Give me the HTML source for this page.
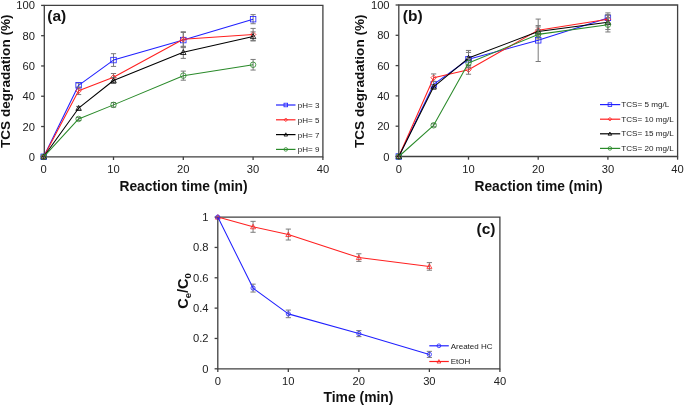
<!DOCTYPE html>
<html><head><meta charset="utf-8"><style>
html,body{margin:0;padding:0;background:#fff;width:685px;height:407px;overflow:hidden}
svg{display:block;will-change:transform}
text{font-family:"Liberation Sans", sans-serif;fill:#222}
text[font-weight=bold]{fill:#111}
</style></head><body>
<svg width="685" height="407" viewBox="0 0 685 407">
<rect width="685" height="407" fill="#fff"/>
<path d="M43.70 156.80V160.00" stroke="#404040" stroke-width="1.3"/>
<text x="43.70" y="173.30" text-anchor="middle" font-size="11.2">0</text>
<path d="M113.50 156.80V160.00" stroke="#404040" stroke-width="1.3"/>
<text x="113.50" y="173.30" text-anchor="middle" font-size="11.2">10</text>
<path d="M183.30 156.80V160.00" stroke="#404040" stroke-width="1.3"/>
<text x="183.30" y="173.30" text-anchor="middle" font-size="11.2">20</text>
<path d="M253.10 156.80V160.00" stroke="#404040" stroke-width="1.3"/>
<text x="253.10" y="173.30" text-anchor="middle" font-size="11.2">30</text>
<path d="M322.90 156.80V160.00" stroke="#404040" stroke-width="1.3"/>
<text x="322.90" y="173.30" text-anchor="middle" font-size="11.2">40</text>
<path d="M41.10 156.80H44.30" stroke="#404040" stroke-width="1.3"/>
<text x="35.00" y="160.80" text-anchor="end" font-size="11.2">0</text>
<path d="M41.10 126.52H44.30" stroke="#404040" stroke-width="1.3"/>
<text x="35.00" y="130.52" text-anchor="end" font-size="11.2">20</text>
<path d="M41.10 96.24H44.30" stroke="#404040" stroke-width="1.3"/>
<text x="35.00" y="100.24" text-anchor="end" font-size="11.2">40</text>
<path d="M41.10 65.96H44.30" stroke="#404040" stroke-width="1.3"/>
<text x="35.00" y="69.96" text-anchor="end" font-size="11.2">60</text>
<path d="M41.10 35.68H44.30" stroke="#404040" stroke-width="1.3"/>
<text x="35.00" y="39.68" text-anchor="end" font-size="11.2">80</text>
<path d="M41.10 5.40H44.30" stroke="#404040" stroke-width="1.3"/>
<text x="35.00" y="9.40" text-anchor="end" font-size="11.2">100</text>
<path d="M44.30 5.40H322.90V156.80H44.30Z" fill="none" stroke="#404040" stroke-width="1.3"/>
<path d="M78.60 83.07V87.61M76.00 83.07H81.20M76.00 87.61H81.20" stroke="#7a7a7a" stroke-width="1" fill="none"/>
<path d="M113.50 53.70V66.41M110.90 53.70H116.10M110.90 66.41H116.10" stroke="#7a7a7a" stroke-width="1" fill="none"/>
<path d="M183.30 32.50V47.64M180.70 32.50H185.90M180.70 47.64H185.90" stroke="#7a7a7a" stroke-width="1" fill="none"/>
<path d="M253.10 14.64V23.72M250.50 14.64H255.70M250.50 23.72H255.70" stroke="#7a7a7a" stroke-width="1" fill="none"/>
<path d="M43.70 156.80L78.60 85.34L113.50 60.06L183.30 40.07L253.10 19.18" fill="none" stroke="#2020ff" stroke-width="1.05" stroke-linejoin="round"/>
<rect x="40.95" y="154.05" width="5.50" height="5.50" fill="none" stroke="#2020ff" stroke-width="0.8"/>
<rect x="75.85" y="82.59" width="5.50" height="5.50" fill="none" stroke="#2020ff" stroke-width="0.8"/>
<rect x="110.75" y="57.31" width="5.50" height="5.50" fill="none" stroke="#2020ff" stroke-width="0.8"/>
<rect x="180.55" y="37.32" width="5.50" height="5.50" fill="none" stroke="#2020ff" stroke-width="0.8"/>
<rect x="250.35" y="16.43" width="5.50" height="5.50" fill="none" stroke="#2020ff" stroke-width="0.8"/>
<path d="M78.60 87.00V94.57M76.00 87.00H81.20M76.00 94.57H81.20" stroke="#7a7a7a" stroke-width="1" fill="none"/>
<path d="M113.50 73.53V81.10M110.90 73.53H116.10M110.90 81.10H116.10" stroke="#7a7a7a" stroke-width="1" fill="none"/>
<path d="M183.30 31.74V46.88M180.70 31.74H185.90M180.70 46.88H185.90" stroke="#7a7a7a" stroke-width="1" fill="none"/>
<path d="M253.10 28.41V40.52M250.50 28.41H255.70M250.50 40.52H255.70" stroke="#7a7a7a" stroke-width="1" fill="none"/>
<path d="M43.70 156.80L78.60 90.79L113.50 77.32L183.30 39.31L253.10 34.47" fill="none" stroke="#ff2020" stroke-width="1.05" stroke-linejoin="round"/>
<path d="M43.70 154.05L46.45 156.80L43.70 159.55L40.95 156.80Z" fill="none" stroke="#ff2020" stroke-width="0.8"/>
<path d="M78.60 88.04L81.35 90.79L78.60 93.54L75.85 90.79Z" fill="none" stroke="#ff2020" stroke-width="0.8"/>
<path d="M113.50 74.57L116.25 77.32L113.50 80.07L110.75 77.32Z" fill="none" stroke="#ff2020" stroke-width="0.8"/>
<path d="M183.30 36.56L186.05 39.31L183.30 42.06L180.55 39.31Z" fill="none" stroke="#ff2020" stroke-width="0.8"/>
<path d="M253.10 31.72L255.85 34.47L253.10 37.22L250.35 34.47Z" fill="none" stroke="#ff2020" stroke-width="0.8"/>
<path d="M78.60 106.38V110.02M76.00 106.38H81.20M76.00 110.02H81.20" stroke="#7a7a7a" stroke-width="1" fill="none"/>
<path d="M113.50 77.47V83.52M110.90 77.47H116.10M110.90 83.52H116.10" stroke="#7a7a7a" stroke-width="1" fill="none"/>
<path d="M183.30 46.28V58.39M180.70 46.28H185.90M180.70 58.39H185.90" stroke="#7a7a7a" stroke-width="1" fill="none"/>
<path d="M253.10 31.90V40.98M250.50 31.90H255.70M250.50 40.98H255.70" stroke="#7a7a7a" stroke-width="1" fill="none"/>
<path d="M43.70 156.80L78.60 108.20L113.50 80.49L183.30 52.33L253.10 36.44" fill="none" stroke="#000000" stroke-width="1.05" stroke-linejoin="round"/>
<path d="M43.70 154.05L46.45 159.00L40.95 159.00Z" fill="none" stroke="#000000" stroke-width="0.8"/>
<path d="M78.60 105.45L81.35 110.40L75.85 110.40Z" fill="none" stroke="#000000" stroke-width="0.8"/>
<path d="M113.50 77.74L116.25 82.69L110.75 82.69Z" fill="none" stroke="#000000" stroke-width="0.8"/>
<path d="M183.30 49.58L186.05 54.53L180.55 54.53Z" fill="none" stroke="#000000" stroke-width="0.8"/>
<path d="M253.10 33.69L255.85 38.64L250.35 38.64Z" fill="none" stroke="#000000" stroke-width="0.8"/>
<path d="M78.60 117.44V120.46M76.00 117.44H81.20M76.00 120.46H81.20" stroke="#7a7a7a" stroke-width="1" fill="none"/>
<path d="M113.50 102.60V107.14M110.90 102.60H116.10M110.90 107.14H116.10" stroke="#7a7a7a" stroke-width="1" fill="none"/>
<path d="M183.30 71.11V80.19M180.70 71.11H185.90M180.70 80.19H185.90" stroke="#7a7a7a" stroke-width="1" fill="none"/>
<path d="M253.10 59.45V70.05M250.50 59.45H255.70M250.50 70.05H255.70" stroke="#7a7a7a" stroke-width="1" fill="none"/>
<path d="M43.70 156.80L78.60 118.95L113.50 104.87L183.30 75.65L253.10 64.75" fill="none" stroke="#2a8a2a" stroke-width="1.05" stroke-linejoin="round"/>
<circle cx="43.70" cy="156.80" r="2.75" fill="none" stroke="#2a8a2a" stroke-width="0.8"/>
<circle cx="78.60" cy="118.95" r="2.75" fill="none" stroke="#2a8a2a" stroke-width="0.8"/>
<circle cx="113.50" cy="104.87" r="2.75" fill="none" stroke="#2a8a2a" stroke-width="0.8"/>
<circle cx="183.30" cy="75.65" r="2.75" fill="none" stroke="#2a8a2a" stroke-width="0.8"/>
<circle cx="253.10" cy="64.75" r="2.75" fill="none" stroke="#2a8a2a" stroke-width="0.8"/>
<text x="47.3" y="20.8" font-size="15.5" font-weight="bold">(a)</text>
<text x="183.5" y="190.6" text-anchor="middle" font-size="13.8" font-weight="bold">Reaction time (min)</text>
<text transform="translate(10 81.2) rotate(-90)" text-anchor="middle" font-size="13.6" font-weight="bold">TCS degradation (%)</text>
<path d="M276 105.00H295.5" stroke="#2020ff" stroke-width="1.2"/>
<rect x="284.00" y="103.20" width="3.60" height="3.60" fill="none" stroke="#2020ff" stroke-width="0.8"/>
<text x="297.8" y="107.90" font-size="8">pH= 3</text>
<path d="M276 119.80H295.5" stroke="#ff2020" stroke-width="1.2"/>
<path d="M285.80 118.00L287.60 119.80L285.80 121.60L284.00 119.80Z" fill="none" stroke="#ff2020" stroke-width="0.8"/>
<text x="297.8" y="122.70" font-size="8">pH= 5</text>
<path d="M276 134.60H295.5" stroke="#000000" stroke-width="1.2"/>
<path d="M285.80 132.80L287.60 136.04L284.00 136.04Z" fill="none" stroke="#000000" stroke-width="0.8"/>
<text x="297.8" y="137.50" font-size="8">pH= 7</text>
<path d="M276 149.40H295.5" stroke="#2a8a2a" stroke-width="1.2"/>
<circle cx="285.80" cy="149.40" r="1.80" fill="none" stroke="#2a8a2a" stroke-width="0.8"/>
<text x="297.8" y="152.30" font-size="8">pH= 9</text>
<path d="M398.80 156.50V159.70" stroke="#404040" stroke-width="1.3"/>
<text x="398.80" y="173.10" text-anchor="middle" font-size="11.2">0</text>
<path d="M468.50 156.50V159.70" stroke="#404040" stroke-width="1.3"/>
<text x="468.50" y="173.10" text-anchor="middle" font-size="11.2">10</text>
<path d="M538.20 156.50V159.70" stroke="#404040" stroke-width="1.3"/>
<text x="538.20" y="173.10" text-anchor="middle" font-size="11.2">20</text>
<path d="M607.90 156.50V159.70" stroke="#404040" stroke-width="1.3"/>
<text x="607.90" y="173.10" text-anchor="middle" font-size="11.2">30</text>
<path d="M677.60 156.50V159.70" stroke="#404040" stroke-width="1.3"/>
<text x="677.60" y="173.10" text-anchor="middle" font-size="11.2">40</text>
<path d="M395.60 156.50H398.80" stroke="#404040" stroke-width="1.3"/>
<text x="389.60" y="160.50" text-anchor="end" font-size="11.2">0</text>
<path d="M395.60 126.20H398.80" stroke="#404040" stroke-width="1.3"/>
<text x="389.60" y="130.20" text-anchor="end" font-size="11.2">20</text>
<path d="M395.60 95.90H398.80" stroke="#404040" stroke-width="1.3"/>
<text x="389.60" y="99.90" text-anchor="end" font-size="11.2">40</text>
<path d="M395.60 65.60H398.80" stroke="#404040" stroke-width="1.3"/>
<text x="389.60" y="69.60" text-anchor="end" font-size="11.2">60</text>
<path d="M395.60 35.30H398.80" stroke="#404040" stroke-width="1.3"/>
<text x="389.60" y="39.30" text-anchor="end" font-size="11.2">80</text>
<path d="M395.60 5.00H398.80" stroke="#404040" stroke-width="1.3"/>
<text x="389.60" y="9.00" text-anchor="end" font-size="11.2">100</text>
<path d="M398.80 5.00H677.60V156.50H398.80Z" fill="none" stroke="#404040" stroke-width="1.3"/>
<path d="M433.65 81.36V87.42M431.05 81.36H436.25M431.05 87.42H436.25" stroke="#7a7a7a" stroke-width="1" fill="none"/>
<path d="M468.50 52.42V66.05M465.90 52.42H471.10M465.90 66.05H471.10" stroke="#7a7a7a" stroke-width="1" fill="none"/>
<path d="M538.20 19.09V61.51M535.60 19.09H540.80M535.60 61.51H540.80" stroke="#7a7a7a" stroke-width="1" fill="none"/>
<path d="M607.90 12.88V22.88M605.30 12.88H610.50M605.30 22.88H610.50" stroke="#7a7a7a" stroke-width="1" fill="none"/>
<path d="M398.80 156.50L433.65 84.39L468.50 59.24L538.20 40.30L607.90 17.88" fill="none" stroke="#2020ff" stroke-width="1.05" stroke-linejoin="round"/>
<rect x="396.05" y="153.75" width="5.50" height="5.50" fill="none" stroke="#2020ff" stroke-width="0.8"/>
<rect x="430.90" y="81.64" width="5.50" height="5.50" fill="none" stroke="#2020ff" stroke-width="0.8"/>
<rect x="465.75" y="56.49" width="5.50" height="5.50" fill="none" stroke="#2020ff" stroke-width="0.8"/>
<rect x="535.45" y="37.55" width="5.50" height="5.50" fill="none" stroke="#2020ff" stroke-width="0.8"/>
<rect x="605.15" y="15.13" width="5.50" height="5.50" fill="none" stroke="#2020ff" stroke-width="0.8"/>
<path d="M433.65 73.93V81.51M431.05 73.93H436.25M431.05 81.51H436.25" stroke="#7a7a7a" stroke-width="1" fill="none"/>
<path d="M468.50 65.15V74.24M465.90 65.15H471.10M465.90 74.24H471.10" stroke="#7a7a7a" stroke-width="1" fill="none"/>
<path d="M538.20 25.60V34.69M535.60 25.60H540.80M535.60 34.69H540.80" stroke="#7a7a7a" stroke-width="1" fill="none"/>
<path d="M607.90 14.70V23.79M605.30 14.70H610.50M605.30 23.79H610.50" stroke="#7a7a7a" stroke-width="1" fill="none"/>
<path d="M398.80 156.50L433.65 77.72L468.50 69.69L538.20 30.15L607.90 19.24" fill="none" stroke="#ff2020" stroke-width="1.05" stroke-linejoin="round"/>
<path d="M398.80 153.75L401.55 156.50L398.80 159.25L396.05 156.50Z" fill="none" stroke="#ff2020" stroke-width="0.8"/>
<path d="M433.65 74.97L436.40 77.72L433.65 80.47L430.90 77.72Z" fill="none" stroke="#ff2020" stroke-width="0.8"/>
<path d="M468.50 66.94L471.25 69.69L468.50 72.44L465.75 69.69Z" fill="none" stroke="#ff2020" stroke-width="0.8"/>
<path d="M538.20 27.40L540.95 30.15L538.20 32.90L535.45 30.15Z" fill="none" stroke="#ff2020" stroke-width="0.8"/>
<path d="M607.90 16.49L610.65 19.24L607.90 21.99L605.15 19.24Z" fill="none" stroke="#ff2020" stroke-width="0.8"/>
<path d="M433.65 84.54V89.08M431.05 84.54H436.25M431.05 89.08H436.25" stroke="#7a7a7a" stroke-width="1" fill="none"/>
<path d="M468.50 50.45V65.60M465.90 50.45H471.10M465.90 65.60H471.10" stroke="#7a7a7a" stroke-width="1" fill="none"/>
<path d="M538.20 26.97V36.06M535.60 26.97H540.80M535.60 36.06H540.80" stroke="#7a7a7a" stroke-width="1" fill="none"/>
<path d="M607.90 15.00V29.54M605.30 15.00H610.50M605.30 29.54H610.50" stroke="#7a7a7a" stroke-width="1" fill="none"/>
<path d="M398.80 156.50L433.65 86.81L468.50 58.03L538.20 31.51L607.90 22.27" fill="none" stroke="#000000" stroke-width="1.05" stroke-linejoin="round"/>
<path d="M398.80 153.75L401.55 158.70L396.05 158.70Z" fill="none" stroke="#000000" stroke-width="0.8"/>
<path d="M433.65 84.06L436.40 89.01L430.90 89.01Z" fill="none" stroke="#000000" stroke-width="0.8"/>
<path d="M468.50 55.28L471.25 60.23L465.75 60.23Z" fill="none" stroke="#000000" stroke-width="0.8"/>
<path d="M538.20 28.76L540.95 33.71L535.45 33.71Z" fill="none" stroke="#000000" stroke-width="0.8"/>
<path d="M607.90 19.52L610.65 24.47L605.15 24.47Z" fill="none" stroke="#000000" stroke-width="0.8"/>
<path d="M433.65 123.78V126.81M431.05 123.78H436.25M431.05 126.81H436.25" stroke="#7a7a7a" stroke-width="1" fill="none"/>
<path d="M468.50 58.48V67.57M465.90 58.48H471.10M465.90 67.57H471.10" stroke="#7a7a7a" stroke-width="1" fill="none"/>
<path d="M538.20 29.85V38.94M535.60 29.85H540.80M535.60 38.94H540.80" stroke="#7a7a7a" stroke-width="1" fill="none"/>
<path d="M607.90 17.42V31.97M605.30 17.42H610.50M605.30 31.97H610.50" stroke="#7a7a7a" stroke-width="1" fill="none"/>
<path d="M398.80 156.50L433.65 125.29L468.50 63.02L538.20 34.39L607.90 24.70" fill="none" stroke="#2a8a2a" stroke-width="1.05" stroke-linejoin="round"/>
<circle cx="398.80" cy="156.50" r="2.75" fill="none" stroke="#2a8a2a" stroke-width="0.8"/>
<circle cx="433.65" cy="125.29" r="2.75" fill="none" stroke="#2a8a2a" stroke-width="0.8"/>
<circle cx="468.50" cy="63.02" r="2.75" fill="none" stroke="#2a8a2a" stroke-width="0.8"/>
<circle cx="538.20" cy="34.39" r="2.75" fill="none" stroke="#2a8a2a" stroke-width="0.8"/>
<circle cx="607.90" cy="24.70" r="2.75" fill="none" stroke="#2a8a2a" stroke-width="0.8"/>
<text x="402.8" y="20.8" font-size="15.5" font-weight="bold">(b)</text>
<text x="538.5" y="190.6" text-anchor="middle" font-size="13.8" font-weight="bold">Reaction time (min)</text>
<text transform="translate(364.3 81.2) rotate(-90)" text-anchor="middle" font-size="13.6" font-weight="bold">TCS degradation (%)</text>
<path d="M600 104.60H620.2" stroke="#2020ff" stroke-width="1.2"/>
<rect x="608.10" y="102.80" width="3.60" height="3.60" fill="none" stroke="#2020ff" stroke-width="0.8"/>
<text x="621.3" y="107.00" font-size="8.1">TCS= 5 mg/L</text>
<path d="M600 119.20H620.2" stroke="#ff2020" stroke-width="1.2"/>
<path d="M609.90 117.40L611.70 119.20L609.90 121.00L608.10 119.20Z" fill="none" stroke="#ff2020" stroke-width="0.8"/>
<text x="621.3" y="121.60" font-size="8.1">TCS= 10 mg/L</text>
<path d="M600 133.80H620.2" stroke="#000000" stroke-width="1.2"/>
<path d="M609.90 132.00L611.70 135.24L608.10 135.24Z" fill="none" stroke="#000000" stroke-width="0.8"/>
<text x="621.3" y="136.20" font-size="8.1">TCS= 15 mg/L</text>
<path d="M600 148.40H620.2" stroke="#2a8a2a" stroke-width="1.2"/>
<circle cx="609.90" cy="148.40" r="1.80" fill="none" stroke="#2a8a2a" stroke-width="0.8"/>
<text x="621.3" y="150.80" font-size="8.1">TCS= 20 mg/L</text>
<path d="M217.80 368.80V372.00" stroke="#404040" stroke-width="1.3"/>
<text x="217.80" y="385.40" text-anchor="middle" font-size="11.2">0</text>
<path d="M288.32 368.80V372.00" stroke="#404040" stroke-width="1.3"/>
<text x="288.32" y="385.40" text-anchor="middle" font-size="11.2">10</text>
<path d="M358.85 368.80V372.00" stroke="#404040" stroke-width="1.3"/>
<text x="358.85" y="385.40" text-anchor="middle" font-size="11.2">20</text>
<path d="M429.38 368.80V372.00" stroke="#404040" stroke-width="1.3"/>
<text x="429.38" y="385.40" text-anchor="middle" font-size="11.2">30</text>
<path d="M499.90 368.80V372.00" stroke="#404040" stroke-width="1.3"/>
<text x="499.90" y="385.40" text-anchor="middle" font-size="11.2">40</text>
<path d="M214.60 368.80H217.80" stroke="#404040" stroke-width="1.3"/>
<text x="208.50" y="372.80" text-anchor="end" font-size="11.2">0</text>
<path d="M214.60 338.46H217.80" stroke="#404040" stroke-width="1.3"/>
<text x="208.50" y="342.46" text-anchor="end" font-size="11.2">0.2</text>
<path d="M214.60 308.12H217.80" stroke="#404040" stroke-width="1.3"/>
<text x="208.50" y="312.12" text-anchor="end" font-size="11.2">0.4</text>
<path d="M214.60 277.78H217.80" stroke="#404040" stroke-width="1.3"/>
<text x="208.50" y="281.78" text-anchor="end" font-size="11.2">0.6</text>
<path d="M214.60 247.44H217.80" stroke="#404040" stroke-width="1.3"/>
<text x="208.50" y="251.44" text-anchor="end" font-size="11.2">0.8</text>
<path d="M214.60 217.10H217.80" stroke="#404040" stroke-width="1.3"/>
<text x="208.50" y="221.10" text-anchor="end" font-size="11.2">1</text>
<path d="M217.80 217.10H499.90V368.80H217.80Z" fill="none" stroke="#404040" stroke-width="1.3"/>
<path d="M253.06 221.35V232.27M250.46 221.35H255.66M250.46 232.27H255.66" stroke="#7a7a7a" stroke-width="1" fill="none"/>
<path d="M288.32 229.08V240.01M285.72 229.08H290.93M285.72 240.01H290.93" stroke="#7a7a7a" stroke-width="1" fill="none"/>
<path d="M358.85 253.81V261.40M356.25 253.81H361.45M356.25 261.40H361.45" stroke="#7a7a7a" stroke-width="1" fill="none"/>
<path d="M429.38 262.61V270.19M426.77 262.61H431.98M426.77 270.19H431.98" stroke="#7a7a7a" stroke-width="1" fill="none"/>
<path d="M217.80 217.10L253.06 226.81L288.32 234.55L358.85 257.60L429.38 266.40" fill="none" stroke="#ff2020" stroke-width="1.05" stroke-linejoin="round"/>
<path d="M217.80 214.60L220.30 219.10L215.30 219.10Z" fill="none" stroke="#ff2020" stroke-width="0.8"/>
<path d="M253.06 224.31L255.56 228.81L250.56 228.81Z" fill="none" stroke="#ff2020" stroke-width="0.8"/>
<path d="M288.32 232.05L290.82 236.55L285.82 236.55Z" fill="none" stroke="#ff2020" stroke-width="0.8"/>
<path d="M358.85 255.10L361.35 259.60L356.35 259.60Z" fill="none" stroke="#ff2020" stroke-width="0.8"/>
<path d="M429.38 263.90L431.88 268.40L426.88 268.40Z" fill="none" stroke="#ff2020" stroke-width="0.8"/>
<path d="M253.06 284.15V292.04M250.46 284.15H255.66M250.46 292.04H255.66" stroke="#7a7a7a" stroke-width="1" fill="none"/>
<path d="M288.32 310.09V317.68M285.72 310.09H290.93M285.72 317.68H290.93" stroke="#7a7a7a" stroke-width="1" fill="none"/>
<path d="M358.85 330.57V336.64M356.25 330.57H361.45M356.25 336.64H361.45" stroke="#7a7a7a" stroke-width="1" fill="none"/>
<path d="M429.38 351.35V357.42M426.77 351.35H431.98M426.77 357.42H431.98" stroke="#7a7a7a" stroke-width="1" fill="none"/>
<path d="M217.80 217.10L253.06 288.10L288.32 313.88L358.85 333.61L429.38 354.39" fill="none" stroke="#2020ff" stroke-width="1.05" stroke-linejoin="round"/>
<circle cx="217.80" cy="217.10" r="2.10" fill="none" stroke="#2020ff" stroke-width="0.8"/>
<circle cx="253.06" cy="288.10" r="2.10" fill="none" stroke="#2020ff" stroke-width="0.8"/>
<circle cx="288.32" cy="313.88" r="2.10" fill="none" stroke="#2020ff" stroke-width="0.8"/>
<circle cx="358.85" cy="333.61" r="2.10" fill="none" stroke="#2020ff" stroke-width="0.8"/>
<circle cx="429.38" cy="354.39" r="2.10" fill="none" stroke="#2020ff" stroke-width="0.8"/>
<text x="476.5" y="233.7" font-size="15.5" font-weight="bold">(c)</text>
<text x="358.5" y="402" text-anchor="middle" font-size="13.9" font-weight="bold">Time (min)</text>
<text transform="translate(188 291) rotate(-90)" text-anchor="middle" font-size="14.5" font-weight="bold">C<tspan font-size="9.5" dy="3">e</tspan><tspan dy="-3">/C</tspan><tspan font-size="9.5" dy="3">0</tspan></text>
<path d="M429.3 345.80H448.8" stroke="#2020ff" stroke-width="1.2"/>
<circle cx="438.90" cy="345.80" r="1.90" fill="none" stroke="#2020ff" stroke-width="0.8"/>
<text x="450.7" y="348.70" font-size="8">Areated HC</text>
<path d="M429.3 361.50H448.8" stroke="#ff2020" stroke-width="1.2"/>
<path d="M438.90 359.60L440.80 363.02L437.00 363.02Z" fill="none" stroke="#ff2020" stroke-width="0.8"/>
<text x="450.7" y="364.40" font-size="8">EtOH</text>
</svg>
</body></html>
